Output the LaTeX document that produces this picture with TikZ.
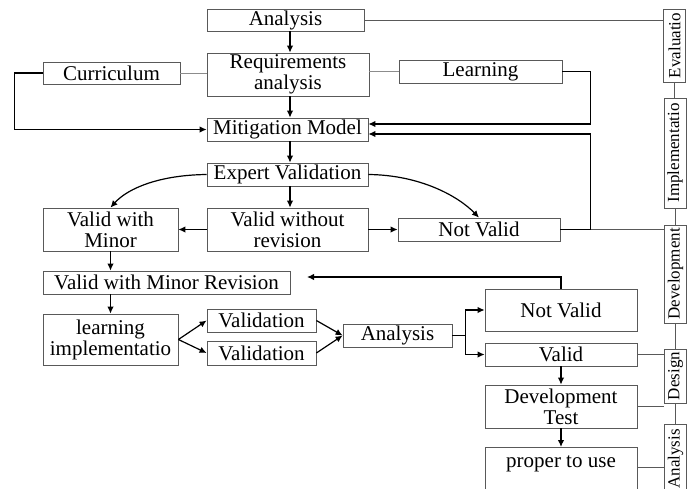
\documentclass[tikz,border=0pt]{standalone}
\usepackage{fontspec}
\setmainfont{Liberation Serif}
\usepackage{tikz}
\usetikzlibrary{arrows.meta}
\usetikzlibrary{calc}

\begin{document}
\begin{tikzpicture}[x=1pt, y=-1pt, box/.style={draw=black!65, line width=0.8pt, inner sep=0pt, align=center, font=\fontsize{21}{21}\selectfont}, side/.style={box, rotate=90, minimum height=22pt, font=\fontsize{17}{16}\selectfont}, arr/.style={black, line width=1.2pt, -{Latex[length=7pt,width=6.5pt]}}, link/.style={black!65, line width=0.9pt}]
  \clip (0,0) rectangle (691,488);
  % left and middle column
  \node[box, minimum width=157pt, minimum height=22pt] (ana) at (285.5,20) {Analysis};
  \node[box, minimum width=162pt, minimum height=43pt] (req) at (288,74.5) {Requirements\\analysis};
  \node[box, minimum width=137pt, minimum height=22pt] (cur) at (111.5,73) {Curriculum};
  \node[box, minimum width=163pt, minimum height=23pt] (lrn) at (480.5,71.5) {Learning};
  \node[box, minimum width=161pt, minimum height=23pt] (mit) at (287.5,129.5) {Mitigation Model};
  \node[box, minimum width=161pt, minimum height=23pt] (exp) at (287.5,174.5) {Expert Validation};
  \node[box, minimum width=135pt, minimum height=43pt] (vmin) at (110.5,229.5) {Valid with\\Minor};
  \node[box, minimum width=161pt, minimum height=43pt] (vwo) at (287.5,229.5) {Valid without\\revision};
  \node[box, minimum width=162pt, minimum height=23pt] (nv) at (479,229.5) {Not Valid};
  \node[box, minimum width=247pt, minimum height=23pt] (vmr) at (166.5,282.5) {Valid with Minor Revision};
  \node[box, minimum width=135pt, minimum height=51pt] (limp) at (110.5,339.5) {learning\\implementatio};
  \node[box, minimum width=109pt, minimum height=23pt] (val1) at (261.5,320.5) {Validation};
  \node[box, minimum width=109pt, minimum height=24pt] (val2) at (261.5,353) {Validation};
  \node[box, minimum width=109pt, minimum height=23pt] (ana2) at (397.5,335.5) {Analysis};
  \node[box, minimum width=152pt, minimum height=42pt] (nv2) at (561,310) {Not Valid};
  \node[box, minimum width=152pt, minimum height=23pt] (vld) at (561,354.5) {Valid};
  \node[box, minimum width=152pt, minimum height=43pt] (dev) at (561,406.5) {Development\\Test};
  \node[box, minimum width=152pt, minimum height=56pt, anchor=north] (prp) at (561,447) {proper to use\\ \strut};
  % stages on the right
  \node[side, minimum width=73pt] (eva) at (674.5,45.5) {Evaluatio};
  \node[side, minimum width=110pt] (imp) at (675,153) {Implementatio};
  \node[side, minimum width=98pt] (devr) at (675.5,274) {Development};
  \node[side, minimum width=54pt] (des) at (675.5,376) {Design};
  \node[side, minimum width=70pt] (anr) at (675.5,459) {Analysis};
  \coordinate (back) at (307,277);

  \draw[link] (ana.east) -- (ana.east -| eva.north);
  \draw[link] (eva.west) -- (eva.west |- imp.east);
  \draw[link] (imp.west) -- (imp.west |- devr.east);
  \draw[link] (devr.west) -- (devr.west |- des.east);
  \draw[link] (des.west) -- (des.west |- anr.east);
  \draw[link, black!45] (req.west |- cur.east) -- (cur.east);
  \draw[link, black!45] (req.east |- lrn.west) -- (lrn.west);
  \draw[link] (nv.east) -- (nv.east -| devr.north);
  \draw[link] (vld.east) -- (vld.east -| des.north);
  \draw[link] (dev.east) -- (dev.east -| des.north);
  \draw[link] ([yshift=8pt]prp.east) -- ([yshift=8pt]prp.east -| anr.north);

  \draw[arr] (ana.south -| 290,0) -- (req.north -| 290,0);
  \draw[arr] (req.south -| 290,0) -- (mit.north -| 290,0);
  \draw[arr] (mit.south -| 290,0) -- (exp.north -| 290,0);
  \draw[arr] (exp.south -| 290,0) -- (vwo.north -| 290,0);
  \draw[arr] (cur.west) -- ++(-28,0) |- (mit.west);
  \draw[arr] (lrn.east) -- ++(28,0) |- ([yshift=5.5pt]mit.east);
  \draw[arr] (nv.east) -- ++(30,0) |- ([yshift=-4.5pt]mit.east);
  \draw[arr] (exp.west) .. controls (160,175) and (128,188) .. (vmin.north);
  \draw[arr] (exp.east) .. controls (420,175) and (458,196) .. (nv.north);
  \draw[arr] (vwo.west) -- (vmin.east);
  \draw[arr] (vwo.east) -- (nv.west);
  \draw[arr] (vmin.south) -- (vmin.south |- vmr.north);
  \draw[arr] (vmin.south |- vmr.south) -- (limp.north);
  \draw[arr] (limp.east) -- (val1.west);
  \draw[arr] (limp.east) -- (val2.west);
  \draw[arr] (val1.east) -- (ana2.west);
  \draw[arr] (val2.east) -- (ana2.west);
  \draw[line width=1.2pt] (ana2.east) -- ++(13,0) coordinate (fork);
  \draw[arr] (fork) |- (nv2.west);
  \draw[arr] (fork) |- (vld.west);
  \draw[arr] (nv2.north) |- (back);
  \draw[arr] (vld) -- (dev);
  \draw[arr] (dev) -- (prp);
\end{tikzpicture}
\end{document}
